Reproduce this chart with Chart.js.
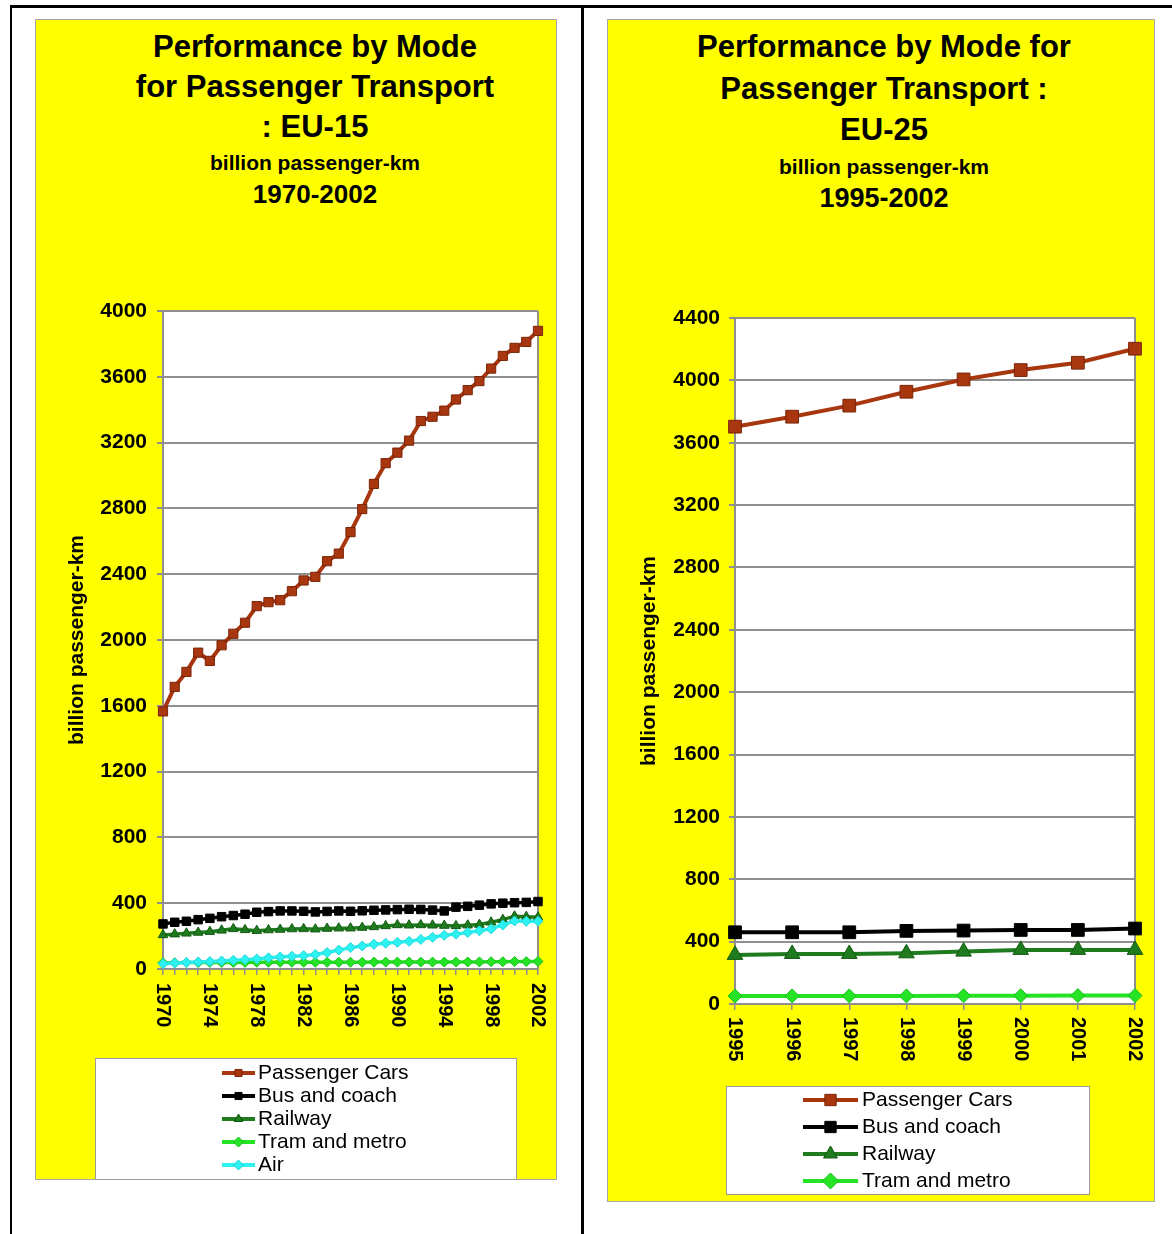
<!DOCTYPE html>
<html lang="en">
<head>
<meta charset="UTF-8">
<title>Performance by Mode for Passenger Transport</title>
<script src="https://cdn.jsdelivr.net/npm/chart.js@4.4.0/dist/chart.umd.min.js"></script>
<style>
  body { margin: 0; background: #fff; font-family: "Liberation Sans", Arial, Helvetica, sans-serif; }
  .page { position: relative; width: 1172px; height: 1234px; overflow: hidden; }
  .rule { position: absolute; background: #000; }
  .panel { position: absolute; background: #ffff00; border: 1px solid #a8a8a8; box-sizing: border-box; }
  canvas { position: absolute; }
  .title { position: absolute; width: 600px; text-align: center; font-weight: bold; color: #000; }
  .title div { white-space: nowrap; }
</style>
</head>
<body>
<div class="page">
  <!-- black frame -->
  <div class="rule" style="left:10px; top:5px; width:1162px; height:3px;"></div>
  <div class="rule" style="left:10px; top:5px; width:2px; height:1229px;"></div>
  <div class="rule" style="left:581px; top:5px; width:3px; height:1229px;"></div>

  <!-- yellow panels -->
  <div class="panel" style="left:35px; top:19px; width:522px; height:1161px;"></div>
  <div class="panel" style="left:607px; top:19px; width:548px; height:1183px;"></div>

  <div class="title" style="left:15px; top:27px;">
    <div style="font-size:31px; line-height:40px;">Performance by Mode</div>
    <div style="font-size:31px; line-height:40px;">for Passenger Transport</div>
    <div style="font-size:31px; line-height:40px;">: EU-15</div>
    <div style="font-size:21px; line-height:32px;">billion passenger-km</div>
    <div style="font-size:26px; line-height:30px;">1970-2002</div>
  </div>
  <div class="title" style="left:584px; top:26px;">
    <div style="font-size:31px; line-height:41.5px;">Performance by Mode for</div>
    <div style="font-size:31px; line-height:41.5px;">Passenger Transport :</div>
    <div style="font-size:31px; line-height:41.5px;">EU-25</div>
    <div style="font-size:21px; line-height:31px;">billion passenger-km</div>
    <div style="font-size:27px; line-height:33px;">1995-2002</div>
  </div>

  <canvas id="eu15" width="522" height="1161" style="left:35px; top:19px;"></canvas>
  <canvas id="eu25" width="548" height="1183" style="left:607px; top:19px;"></canvas>
</div>

<script>
// EU-15, 1970-2002
const years15 = ['1970','1971','1972','1973','1974','1975','1976','1977','1978','1979','1980',
                 '1981','1982','1983','1984','1985','1986','1987','1988','1989','1990',
                 '1991','1992','1993','1994','1995','1996','1997','1998','1999','2000','2001','2002'];
const cars15 = [1566,1715,1806,1923,1873,1968,2038,2105,2206,2230,2242,2297,2362,2384,2479,2525,
                2656,2796,2949,3075,3139,3212,3331,3357,3394,3462,3519,3574,3650,3727,3776,3812,3879];
const bus15  = [274,284,290,300,308,318,325,333,345,349,353,353,351,347,350,353,
                351,354,357,359,361,363,362,358,353,376,381,388,396,400,403,405,410];
const rail15 = [207,212,217,222,227,235,244,238,233,237,240,243,244,242,246,248,
                248,252,256,262,268,266,268,266,264,262,266,270,284,300,321,318,315];
const tram15 = [38,38,39,39,40,40,40,40,41,41,41,41,41,41,41,41,
                41,41,42,42,42,42,42,42,42,42,43,43,44,44,45,45,46];
const air15  = [32,36,40,43,45,49,53,57,61,68,73,77,81,88,100,115,
                130,140,150,157,162,168,180,193,205,212,222,232,244,268,292,290,290];

// EU-25, 1995-2002
const years25 = ['1995','1996','1997','1998','1999','2000','2001','2002'];
const cars25 = [3703,3767,3838,3927,4006,4066,4113,4203];
const bus25  = [460,460,460,469,471,475,475,484];
const rail25 = [315,321,321,325,336,347,347,347];
const tram25 = [51,52,52,52,53,53,54,54];

const seriesNames = ['Passenger Cars', 'Bus and coach', 'Railway', 'Tram and metro', 'Air'];

const FONT = '"Liberation Sans", Arial, Helvetica, sans-serif';
const GRID = '#8f8f8f';

// small marker drawer for the legend box
function marker(ctx, style, x, y, r) {
  ctx.beginPath();
  if (style === 'rect') {
    const s = r * Math.SQRT1_2;
    ctx.rect(x - s, y - s, 2 * s, 2 * s);
  } else if (style === 'triangle') {
    ctx.moveTo(x, y - r);
    ctx.lineTo(x + r * 0.87, y + r * 0.5);
    ctx.lineTo(x - r * 0.87, y + r * 0.5);
    ctx.closePath();
  } else {
    ctx.moveTo(x, y - r); ctx.lineTo(x + r, y); ctx.lineTo(x, y + r); ctx.lineTo(x - r, y);
    ctx.closePath();
  }
  ctx.fill();
  ctx.stroke();
}

const plotFrame = {
  id: 'plotFrame',
  beforeDraw(chart) {
    const a = chart.chartArea, ctx = chart.ctx;
    ctx.save();
    ctx.fillStyle = '#fff';
    ctx.fillRect(a.left, a.top, a.right - a.left, a.bottom - a.top);
    ctx.restore();
  },
  beforeDatasetsDraw(chart) {
    const a = chart.chartArea, ctx = chart.ctx;
    ctx.save();
    ctx.strokeStyle = GRID;
    ctx.lineWidth = 2;
    ctx.beginPath();
    ctx.moveTo(a.right, a.top);
    ctx.lineTo(a.right, a.bottom);
    ctx.stroke();
    ctx.restore();
  }
};

// year labels turned a quarter clockwise, read top to bottom
const downLabels = {
  id: 'downLabels',
  afterDraw(chart, args, opts) {
    const sx = chart.scales.x, ctx = chart.ctx;
    ctx.save();
    ctx.font = 'bold 20px ' + FONT;
    ctx.fillStyle = '#000';
    ctx.textAlign = 'left';
    ctx.textBaseline = 'middle';
    sx.ticks.forEach((t, i) => {
      if (!t.label) return;
      ctx.save();
      ctx.translate(sx.getPixelForTick(i), sx.top + opts.gap);
      ctx.rotate(Math.PI / 2);
      ctx.fillText(t.label, 0, 0);
      ctx.restore();
    });
    ctx.restore();
  }
};

const boxLegend = {
  id: 'boxLegend',
  afterDraw(chart, args, o) {
    const ctx = chart.ctx;
    ctx.save();
    ctx.fillStyle = '#fff';
    ctx.fillRect(o.x, o.y, o.w, o.h);
    ctx.strokeStyle = '#9a9a9a';
    ctx.lineWidth = 1;
    ctx.strokeRect(o.x + 0.5, o.y + 0.5, o.w - 1, o.h - 1);
    ctx.font = o.size + 'px ' + FONT;
    ctx.textAlign = 'left';
    ctx.textBaseline = 'middle';
    chart.data.datasets.forEach((ds, i) => {
      const y = o.rowY + i * o.rowH;
      ctx.strokeStyle = ds.borderColor;
      ctx.lineWidth = o.lineWidth;
      ctx.beginPath();
      ctx.moveTo(o.lineX, y);
      ctx.lineTo(o.lineX + o.lineW, y);
      ctx.stroke();
      ctx.fillStyle = ds.pointBackgroundColor;
      ctx.strokeStyle = ds.pointBorderColor;
      ctx.lineWidth = 1;
      marker(ctx, ds.pointStyle, o.lineX + o.lineW / 2, y, o.markR);
      ctx.fillStyle = '#000';
      ctx.fillText(ds.label, o.textX, y);
    });
    ctx.restore();
  }
};

const looks = [
  { color: '#a8360f', edge: '#7a2508', style: 'rect' },
  { color: '#000000', edge: '#000000', style: 'rect' },
  { color: '#1e7b1e', edge: '#145a14', style: 'triangle' },
  { color: '#25e425', edge: '#1cc01c', style: 'rectRot' },
  { color: '#2ef2f2', edge: '#20d8d8', style: 'rectRot' }
];

function makeSets(values, radii, widths) {
  return values.map((data, i) => ({
    label: seriesNames[i],
    data: data,
    borderColor: looks[i].color,
    backgroundColor: looks[i].color,
    pointBackgroundColor: looks[i].color,
    pointBorderColor: looks[i].edge,
    pointBorderWidth: 1,
    pointStyle: looks[i].style,
    pointRadius: radii[i],
    borderWidth: widths[i],
    tension: 0,
    order: values.length - 1 - i
  }));
}

function makeChart(id, labels, sets, o) {
  return new Chart(document.getElementById(id), {
    type: 'line',
    data: { labels: labels, datasets: sets },
    plugins: [plotFrame, downLabels, boxLegend],
    options: {
      responsive: false,
      animation: false,
      layout: { padding: o.padding },
      plugins: {
        legend: { display: false },
        tooltip: { enabled: false },
        downLabels: { gap: o.labelGap },
        boxLegend: o.legend
      },
      scales: {
        x: {
          offset: false,
          grid: { drawOnChartArea: false, drawTicks: true, tickLength: 6, color: GRID, lineWidth: 1.5 },
          border: { display: true, color: GRID, width: 2 },
          ticks: {
            // the visible year labels are drawn by downLabels
            autoSkip: false, minRotation: 90, maxRotation: 90, padding: 0,
            color: 'rgba(0,0,0,0)',
            font: { family: FONT, size: 1 },
            callback: (v, i) => (i % o.every === 0 ? labels[i] : '')
          },
          afterFit: (s) => { s.height = o.xHeight; }
        },
        y: {
          min: 0, max: o.yMax,
          grid: { color: GRID, lineWidth: 2, tickLength: 6 },
          border: { display: true, color: GRID, width: 2 },
          ticks: {
            stepSize: 400, padding: o.yPad, color: '#000',
            font: { family: FONT, size: 21, weight: 'bold' },
            callback: (v) => String(v)
          },
          title: {
            display: true, text: 'billion passenger-km', color: '#000',
            font: { family: FONT, size: 21, weight: 'bold' },
            padding: { top: o.titlePad, bottom: 0 }
          },
          afterFit: (s) => { s.width = 128; }
        }
      }
    }
  });
}

makeChart('eu15', years15,
  makeSets([cars15, bus15, rail15, tram15, air15], [6.5, 6, 5.5, 5, 5], [4, 3.5, 3.5, 3.5, 3.5]),
  {
    padding: { top: 292, right: 19, bottom: 141, left: 0 },
    xHeight: 70, yMax: 4000, yPad: 10, titlePad: 30, every: 4, labelGap: 14,
    legend: { x: 60, y: 1039, w: 422, h: 122, rowY: 1054, rowH: 23,
              lineX: 187, lineW: 33, textX: 223, size: 21, lineWidth: 4, markR: 5 }
  });

makeChart('eu25', years25,
  makeSets([cars25, bus25, rail25, tram25], [9, 9, 9, 7], [4, 4, 4, 4]),
  {
    padding: { top: 299, right: 20, bottom: 128, left: 0 },
    xHeight: 70, yMax: 4400, yPad: 9, titlePad: 30, every: 1, labelGap: 13,
    legend: { x: 119, y: 1067, w: 364, h: 109, rowY: 1081, rowH: 27,
              lineX: 196, lineW: 55, textX: 255, size: 21, lineWidth: 4, markR: 8 }
  });
</script>
</body>
</html>
